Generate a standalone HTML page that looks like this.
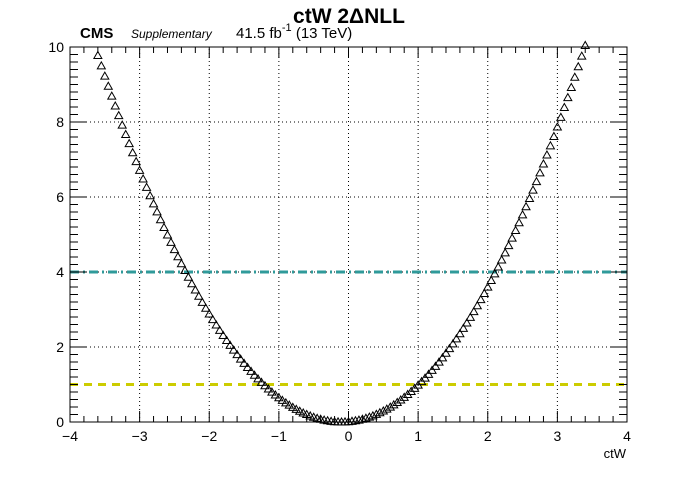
<!DOCTYPE html>
<html><head><meta charset="utf-8"><style>
body{margin:0;background:#fff}
svg text{font-family:"Liberation Sans",Arial,sans-serif}
</style></head><body>
<svg id="chart" width="696" height="472" viewBox="0 0 696 472" xmlns="http://www.w3.org/2000/svg">
<rect width="696" height="472" fill="#fff"/>
<g id="grid"></g>
<g id="refs"></g>
<g id="marks"></g>
<g id="axes"></g>
<text x="349" y="23" font-size="21" font-weight="bold" text-anchor="middle">ctW 2ΔNLL</text>
<text x="80" y="38" font-size="15" font-weight="bold">CMS</text>
<text x="131" y="38" font-size="12" font-style="italic">Supplementary</text>
<text x="236" y="38" font-size="15">41.5 fb<tspan dy="-7" font-size="11">-1</tspan><tspan dy="7"> (13 TeV)</tspan></text>
<text x="626" y="458" font-size="13" text-anchor="end">ctW</text>
</svg>
<script>
const xStart = -3.6, xStep = 0.05;
const half = [0,0.0020,0.0081,0.0182,0.0324,0.0506,0.0729,0.0992,0.1296,0.1640,0.2025,0.2450,0.2916,0.3422,0.3969,0.4556,0.5184,0.5852,0.6561,0.7310,0.81,0.8930,0.9801,1.0712,1.1664,1.2656,1.3689,1.4762,1.5876,1.7030,1.8225,1.9460,2.0736,2.2052,2.3409,2.4806,2.6244,2.7722,2.9241,3.0800,3.24,3.4040,3.5721,3.7442,3.9204,4.1006,4.2849,4.4732,4.6656,4.8620,5.0625,5.2670,5.4756,5.6882,5.9049,6.1256,6.3504,6.5792,6.8121,7.0490,7.29,7.5350,7.7841,8.0372,8.2944,8.5556,8.8209,9.0902,9.3636,9.6410,9.9225];
const leftY = half.slice(1).reverse().map(v=>v*0.985);
const rightY = half.map((v,i)=>v*(1+0.012*i/70));
const yValues = leftY.concat(rightY).map(v=>v<0.02?v:v);
const xTicks = [-4,-3,-2,-1,0,1,2,3,4];
const yTicks = [0,2,4,6,8,10];
const refLevels = [4,1];
const refColors = ['#2f9a9a','#cccc00'];
const refDash = ['9,4,2,4','8,6'];

const X0=70,X1=627,Y0=422,Y1=47;
const sx=v=>X0+(v+4)/8*(X1-X0);
const sy=v=>Y0-v/10*(Y0-Y1);
const NS='http://www.w3.org/2000/svg';
function mk(t,a,p){const e=document.createElementNS(NS,t);for(const k in a)e.setAttribute(k,a[k]);p.appendChild(e);return e;}
const grid=document.getElementById('grid'),axes=document.getElementById('axes'),refs=document.getElementById('refs'),marks=document.getElementById('marks');
xTicks.slice(1,-1).forEach(v=>{const l=mk('line',{x1:sx(v),x2:sx(v),y1:Y0,y2:Y1,stroke:'#000','stroke-width':1,'stroke-dasharray':'1,3'},grid);

});
yTicks.slice(1,-1).forEach(v=>{const l=mk('line',{x1:X0,x2:X1,y1:sy(v),y2:sy(v),stroke:'#000','stroke-width':1,'stroke-dasharray':'1,3'},grid);

});
refLevels.forEach((v,i)=>{const l=mk('line',{x1:X0,x2:X1,y1:sy(v),y2:sy(v),stroke:refColors[i],'stroke-width':3,'stroke-dasharray':refDash[i]},refs);

});
yValues.forEach((v,i)=>{const x=sx(xStart+i*xStep),y=sy(v);
const p=mk('polygon',{points:`${x},${y-4} ${x-4},${y+3} ${x+4},${y+3}`,fill:'none',stroke:'#000','stroke-width':1},marks);

});
const fr=mk('rect',{x:X0,y:Y1,width:X1-X0,height:Y0-Y1,fill:'none',stroke:'#000','stroke-width':1},axes);


for(let i=0;i<=40;i++){const v=-4+i*0.2,x=sx(v),L=(i%5==0)?11:6;
mk('line',{x1:x,x2:x,y1:Y0,y2:Y0-L,stroke:'#000'},axes);mk('line',{x1:x,x2:x,y1:Y1,y2:Y1+L,stroke:'#000'},axes);}
for(let i=0;i<=50;i++){const v=i*0.2,y=sy(v),L=(i%10==0)?16:8;
mk('line',{x1:X0,x2:X0+L,y1:y,y2:y,stroke:'#000'},axes);mk('line',{x1:X1,x2:X1-L,y1:y,y2:y,stroke:'#000'},axes);}
xTicks.forEach(v=>{const t=mk('text',{x:sx(v),y:441,'font-size':14,'text-anchor':'middle'},axes);t.textContent=v<0?'\u2212'+(-v):v;

});
yTicks.forEach(v=>{const t=mk('text',{x:X0-6,y:sy(v)+5,'font-size':14,'text-anchor':'end'},axes);t.textContent=v;

});
</script>
</body></html>
